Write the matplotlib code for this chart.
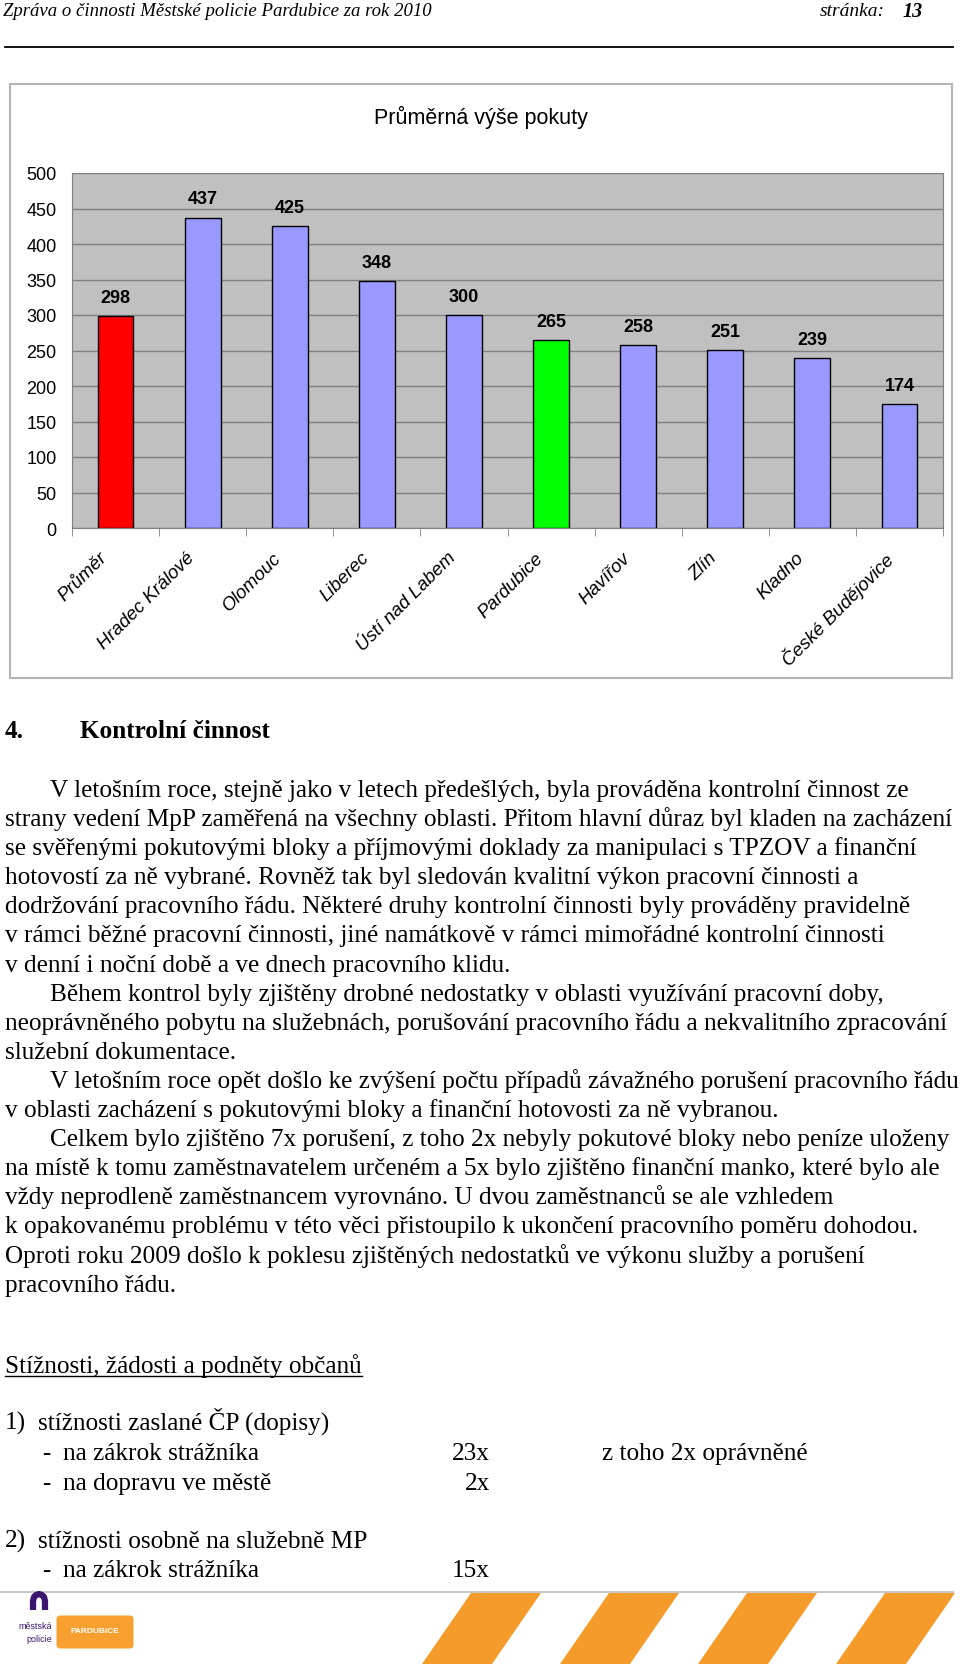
import matplotlib
matplotlib.use('Agg')
import matplotlib.pyplot as plt
from matplotlib.patches import Rectangle, Polygon, FancyBboxPatch

W, H = 960, 1665

# chart data
cities = ['Průměr', 'Hradec Králové', 'Olomouc', 'Liberec', 'Ústí nad Labem',
          'Pardubice', 'Havířov', 'Zlín', 'Kladno', 'České Budějovice']
values = [298, 437, 425, 348, 300, 265, 258, 251, 239, 174]
bar_colors = ['#ff0000', '#9999ff', '#9999ff', '#9999ff', '#9999ff',
              '#00ff00', '#9999ff', '#9999ff', '#9999ff', '#9999ff']
yticks = [0, 50, 100, 150, 200, 250, 300, 350, 400, 450, 500]

# page text
paragraph = [
    (True, 'V letošním roce, stejně jako v letech předešlých, byla prováděna kontrolní činnost ze'),
    (False, 'strany vedení MpP zaměřená na všechny oblasti. Přitom hlavní důraz byl kladen na zacházení'),
    (False, 'se svěřenými pokutovými bloky a příjmovými doklady za manipulaci s TPZOV a finanční'),
    (False, 'hotovostí za ně vybrané. Rovněž tak byl sledován kvalitní výkon pracovní činnosti a'),
    (False, 'dodržování pracovního řádu. Některé druhy kontrolní činnosti byly prováděny pravidelně'),
    (False, 'v rámci běžné pracovní činnosti, jiné namátkově v rámci mimořádné kontrolní činnosti'),
    (False, 'v denní i noční době a ve dnech pracovního klidu.'),
    (True, 'Během kontrol byly zjištěny drobné nedostatky v oblasti využívání pracovní doby,'),
    (False, 'neoprávněného pobytu na služebnách, porušování pracovního řádu a nekvalitního zpracování'),
    (False, 'služební dokumentace.'),
    (True, 'V letošním roce opět došlo ke zvýšení počtu případů závažného porušení pracovního řádu'),
    (False, 'v oblasti zacházení s pokutovými bloky a finanční hotovosti za ně vybranou.'),
    (True, 'Celkem bylo zjištěno 7x porušení, z toho 2x nebyly pokutové bloky nebo peníze uloženy'),
    (False, 'na místě k tomu zaměstnavatelem určeném a 5x bylo zjištěno finanční manko, které bylo ale'),
    (False, 'vždy neprodleně zaměstnancem vyrovnáno. U dvou zaměstnanců se ale vzhledem'),
    (False, 'k opakovanému problému v této věci přistoupilo k ukončení pracovního poměru dohodou.'),
    (False, 'Oproti roku 2009 došlo k poklesu zjištěných nedostatků ve výkonu služby a porušení'),
    (False, 'pracovního řádu.'),
]

SERIF = 'Liberation Serif'
SANS = 'Liberation Sans'
BODY = 18.2

fig = plt.figure(figsize=(9.6, 16.65), dpi=100)
bg = fig.add_axes([0, 0, 1, 1])
bg.set_xlim(0, W)
bg.set_ylim(H, 0)
bg.axis('off')

def put(x, y, s, size=BODY, **kw):
    # y is the visual middle of the line; drawn on the baseline
    kw.setdefault('family', SERIF)
    return bg.text(x, y + 0.38 * size, s, fontsize=size, va='baseline', **kw)

# header
put(3, 11, 'Zpráva o činnosti Městské policie Pardubice za rok 2010', size=13.5, style='italic')
put(820, 11, 'stránka:', size=14, style='italic')
put(903, 11, '13', size=14.5, style='italic', weight='bold')
bg.plot([5, 953], [48, 48], color='black', lw=1.3)

# chart frame
bg.add_patch(Rectangle((10, 85), 942, 594, facecolor='white', edgecolor='#b4b4b4', lw=1.5))
bg.text(481, 117, 'Průměrná výše pokuty', fontsize=15.5, family=SANS, ha='center', va='center')

ax = fig.add_axes([72 / W, 1 - 529 / H, (943 - 72) / W, (529 - 174) / H])
ax.set_facecolor('#c0c0c0')
x = list(range(len(cities)))
ax.bar(x, values, width=0.41, color=bar_colors, edgecolor='black', linewidth=1, zorder=3)
for i, v in enumerate(values):
    ax.annotate(str(v), (i, v), xytext=(0, 13.5), textcoords='offset points',
                ha='center', va='center', fontsize=13, fontweight='bold', family=SANS)
ax.set_xlim(-0.5, len(cities) - 0.5)
ax.set_ylim(0, 500)
ax.set_yticks(yticks)
ax.set_yticklabels([str(t) for t in yticks], family=SANS, fontsize=13)
ax.tick_params(axis='y', length=0, pad=11)
ax.yaxis.grid(True, color='#808080', lw=1)
ax.set_axisbelow(True)
# labels sit a little left of the bar centre, as in Excel
ax.set_xticks([i - 0.19 for i in x])
ax.set_xticklabels(cities, rotation=45, ha='right', rotation_mode='anchor',
                   fontstyle='italic', family=SANS, fontsize=13.5)
ax.set_xticks([i - 0.5 for i in range(len(cities) + 1)], minor=True)
ax.tick_params(axis='x', which='major', length=0, pad=15)
ax.tick_params(axis='x', which='minor', length=6, color='#808080')
for sp in ax.spines.values():
    sp.set_color('#808080')

# section 4
put(5, 731, '4.', weight='bold')
put(80, 731, 'Kontrolní činnost', weight='bold')
y0, step = 790, 29.1
for k, (indent, line) in enumerate(paragraph):
    put(50 if indent else 5, y0 + k * step, line)

t = put(5, 1366, 'Stížnosti, žádosti a podněty občanů')
put(5, 1423, '1)')
put(38, 1423, 'stížnosti zaslané ČP (dopisy)')
put(42, 1453, '-')
put(63, 1453, 'na zákrok strážníka')
put(490, 1453, '23x', ha='right')
put(602, 1453, 'z toho 2x oprávněné')
put(42, 1483, '-')
put(63, 1483, 'na dopravu ve městě')
put(490, 1483, '2x', ha='right')
put(5, 1541, '2)')
put(38, 1541, 'stížnosti osobně na služebně MP')
put(42, 1570, '-')
put(63, 1570, 'na zákrok strážníka')
put(490, 1570, '15x', ha='right')

fig.canvas.draw()
bb = t.get_window_extent()
uy = 1366 + 0.38 * BODY + 4
bg.plot([bb.x0, bb.x1], [uy, uy], color='black', lw=1)

# footer
bg.plot([0, 953], [1593, 1593], color='#c8c8c8', lw=1.5)
for xb in [422, 560, 698, 836]:
    bg.add_patch(Polygon([(xb, H), (xb + 49, 1594), (xb + 119, 1594), (xb + 70, H)],
                         closed=True, facecolor='#f59b2a', edgecolor='none'))
arch_x = [33, 33, 34, 36, 39, 42, 44, 45, 45]
arch_y = [1611, 1602, 1598, 1596, 1595, 1596, 1598, 1602, 1611]
bg.plot(arch_x, arch_y, color='#3b1670', lw=4.5, solid_capstyle='butt')
bg.text(52, 1627, 'městská', fontsize=6.5, family=SANS, color='#3b1670', ha='right', va='center')
bg.text(52, 1640, 'policie', fontsize=6.5, family=SANS, color='#3b1670', ha='right', va='center')
bg.add_patch(FancyBboxPatch((58, 1618), 74, 30, boxstyle='round,pad=1.5,rounding_size=4',
                            facecolor='#f7a030', edgecolor='none'))
bg.text(95, 1632, 'PARDUBICE', fontsize=6, family=SANS, color='white', weight='bold',
        ha='center', va='center')

fig.savefig('out.png', dpi=100)
